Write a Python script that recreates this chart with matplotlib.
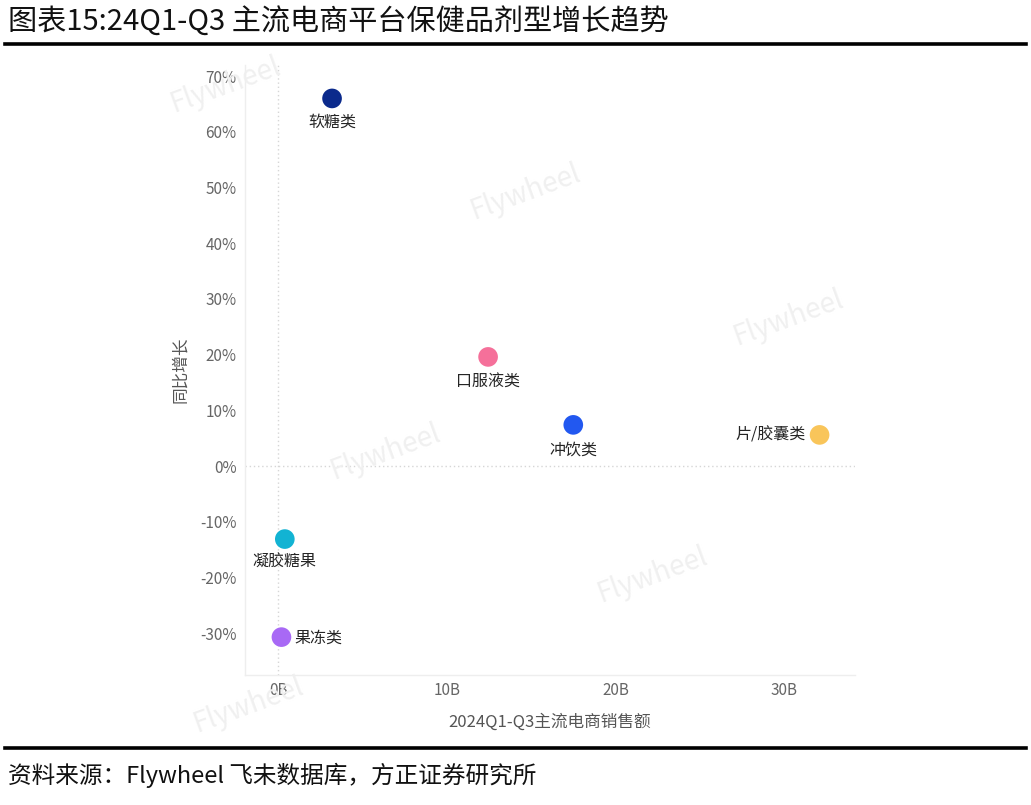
import matplotlib
matplotlib.use("Agg")
import matplotlib.pyplot as plt
from matplotlib.ticker import FuncFormatter

plt.rcParams['font.family'] = ['Noto Sans CJK SC', 'DejaVu Sans']

categories = ['软糖类', '口服液类', '冲饮类', '片/胶囊类', '凝胶糖果', '果冻类']
sales_B = [3.2, 12.45, 17.5, 32.1, 0.4, 0.2]
growth_pct = [66.0, 19.6, 7.4, 5.6, -13.1, -30.7]
colors = ['#0b2a8c', '#f5709a', '#2258f0', '#f9c55a', '#12b3d3', '#a869f5']
x_ticks = [0, 10, 20, 30]
y_ticks = [-30, -20, -10, 0, 10, 20, 30, 40, 50, 60, 70]

W, H = 1031, 805
fig = plt.figure(figsize=(W / 100, H / 100), dpi=100)

def fx(px):
    return px / W

def fy(py):
    return 1 - py / H

# title and rules
fig.text(fx(8), fy(22), '图表15:24Q1-Q3 主流电商平台保健品剂型增长趋势', fontsize=21,
         va='center', ha='left', color='#111111')
fig.add_artist(plt.Line2D([fx(5), fx(1026)], [fy(44), fy(44)], color='black', lw=2.6))
fig.add_artist(plt.Line2D([fx(5), fx(1026)], [fy(748), fy(748)], color='black', lw=2.6))
fig.text(fx(8), fy(775), '资料来源：Flywheel 飞未数据库，方正证券研究所', fontsize=17,
         va='center', ha='left', style='italic', color='#111111')

# watermarks
for (px, py) in [(525, 192), (788, 318), (385, 452), (652, 575), (248, 705), (225, 85)]:
    fig.text(fx(px), fy(py), 'Flywheel', fontsize=20, rotation=20, color='#f0f0f0',
             ha='center', va='center', zorder=0)

ax = fig.add_axes([fx(245), fy(675), fx(855) - fx(245), fy(65) - fy(675)])
ax.set_facecolor('none')
ax.set_xlim(-1.96, 34.2)
ax.set_ylim(-37.5, 72.0)

ax.axvline(0, color='#d6d6d6', lw=1, ls=(0, (1, 2)), zorder=1)
ax.axhline(0, color='#d6d6d6', lw=1, ls=(0, (1, 2)), zorder=1)

ax.scatter(sales_B, growth_pct, s=200, c=colors, zorder=3, edgecolors='none')

offsets = {
    '软糖类': (0, -17, 'center', 'center'),
    '口服液类': (0, -18, 'center', 'center'),
    '冲饮类': (0, -18, 'center', 'center'),
    '片/胶囊类': (-10, 0, 'right', 'center'),
    '凝胶糖果': (0, -17, 'center', 'center'),
    '果冻类': (9, -1, 'left', 'center'),
}
for cat, xv, yv in zip(categories, sales_B, growth_pct):
    dx, dy, ha, va = offsets[cat]
    ax.annotate(cat, (xv, yv), xytext=(dx, dy), textcoords='offset points',
                ha=ha, va=va, fontsize=11.5, color='#252525', zorder=4)

ax.set_xticks(x_ticks)
ax.xaxis.set_major_formatter(FuncFormatter(lambda v, p: f'{int(v)}B'))
ax.set_yticks(y_ticks)
ax.yaxis.set_major_formatter(FuncFormatter(lambda v, p: f'{int(v)}%'))
ax.tick_params(axis='both', length=0, labelsize=11, labelcolor='#666666')
ax.tick_params(axis='y', pad=6)
ax.tick_params(axis='x', pad=5)

for s in ['top', 'right']:
    ax.spines[s].set_visible(False)
for s in ['left', 'bottom']:
    ax.spines[s].set_color('#eeeeee')
    ax.spines[s].set_linewidth(1)

ax.set_xlabel('2024Q1-Q3主流电商销售额', fontsize=12, color='#555555', labelpad=10)
ax.set_ylabel('同比增长', fontsize=12, color='#555555', labelpad=8)

fig.savefig('out.png', dpi=100, facecolor='white')
